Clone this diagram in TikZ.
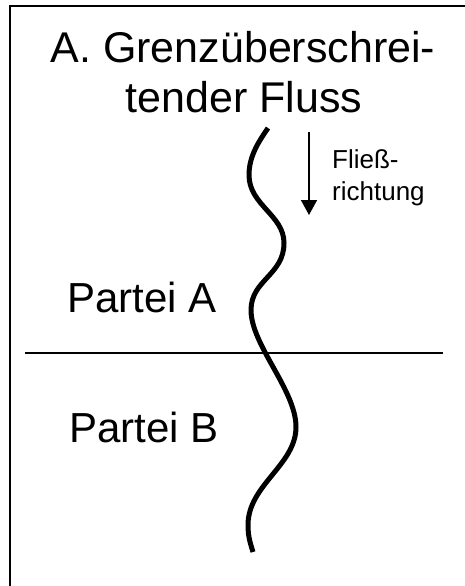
\documentclass[tikz,border=0pt]{standalone}
\usepackage{fontspec}
\setmainfont{Liberation Sans}
\usetikzlibrary{arrows.meta}
\begin{document}
\begin{tikzpicture}[x=1pt,y=-1pt,
  bigtext/.style={inner sep=0pt, anchor=base, font=\fontsize{43}{49}\selectfont},
  partytext/.style={inner sep=0pt, anchor=base west, font=\fontsize{42}{49}\selectfont},
  smalltext/.style={inner sep=0pt, anchor=base west, font=\fontsize{26}{32}\selectfont},
  frameline/.style={line width=2pt},
  borderline/.style={line width=1.6pt},
  river/.style={line width=5pt},
  flowarrow/.style={line width=1.6pt, -{Triangle[width=16pt,length=15pt]}}]
\useasboundingbox (0,0) rectangle (465,586);

% outer frame (runs off the right and bottom edge)
\draw[frameline] (10,590) -- (10,6) -- (470,6);

% title
\node[bigtext] (title1) at (243,63) {A. Grenzüberschrei-};
\node[bigtext] (title2) at (244,112) {tender Fluss};

% flow direction
\coordinate (flowtop) at (309,132);
\coordinate (flowend) at (309,215);
\draw[flowarrow] (flowtop) -- (flowend);
\node[smalltext] (flow1) at (332,168) {Fließ-};
\node[smalltext] (flow2) at (332,200) {richtung};

% border between the two parties
\coordinate (borderW) at (25,353);
\coordinate (borderE) at (443,353);
\draw[borderline] (borderW) -- (borderE);

\node[partytext] (partyA) at (67,312) {Partei A};
\node[partytext] (partyB) at (69,442) {Partei B};

% the river
\draw[river] (268,128)
  .. controls (260,140) and (249,155) .. (249,175)
  .. controls (249,205) and (284,215) .. (284,243)
  .. controls (284,275) and (251,280) .. (251,310)
  .. controls (251,345) and (296,390) .. (296,427)
  .. controls (296,465) and (248,485) .. (248,525)
  .. controls (248,538) and (251,545) .. (253,552);
\end{tikzpicture}
\end{document}
